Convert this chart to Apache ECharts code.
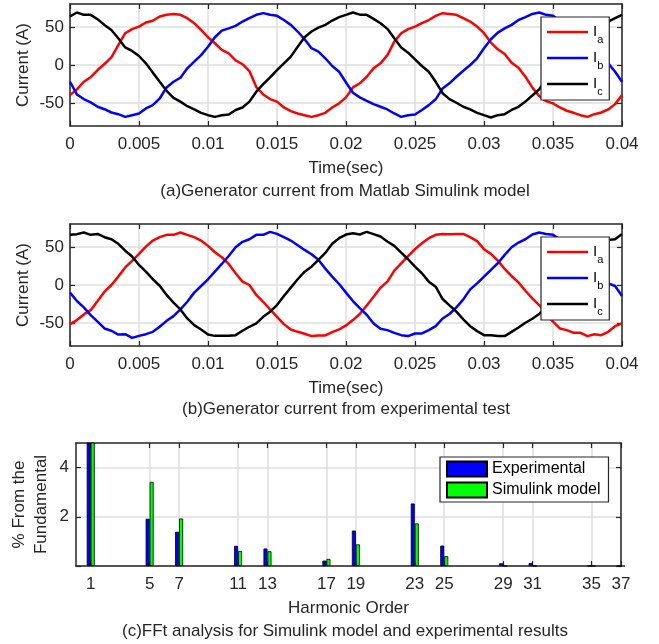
<!DOCTYPE html>
<html><head><meta charset="utf-8">
<script src="https://cdn.jsdelivr.net/npm/echarts@6/dist/echarts.min.js"></script>
<style>html,body{margin:0;padding:0;background:#fff}#c{width:659px;height:644px}</style>
</head><body><div id="c"></div>
<script>
// sampling grid: 0 .. 0.04 s every 0.5 ms (81 samples)
const timeSec = Array.from({length: 81}, (_, i) => +(i * 0.0005).toFixed(4));

// (a) Matlab Simulink model currents (A)
const simIa = [-39.5,-32,-22,-16,-6.6,1.3,10,26,41.7,47,50.4,55.7,58,63.6,66,67,65.8,61.4,54.8,46,36.4,28.5,19.7,15.4,6,1,-8,-29,-38.6,-44.7,-48,-55.7,-60.5,-63.6,-65.8,-68,-65.8,-62.7,-55.7,-50.4,-42.5,-29.4,-24,-15.4,-4.4,2.2,13,30.7,41.7,47,50.4,54.8,59,64.5,68,67,65.8,61.4,57,50.4,41.7,29.4,20.6,14.5,3,-3.5,-15.4,-29.4,-40.8,-47.4,-50.4,-55.7,-60,-62.7,-65.8,-68,-64.5,-62.3,-58.3,-51.3,-39.5];
const simIb = [-22,-38.6,-44.7,-49,-54.8,-58,-62.3,-64.5,-68,-65.8,-63.6,-57,-52.6,-43.9,-29.4,-22,-16.7,-4.4,4.4,13,24,36.4,45,48,51.3,57,61.4,65.8,68,65.8,64.5,59,52.6,43.9,33.8,22,17.5,8.8,-1.3,-8.8,-23,-36.4,-42.5,-47,-51.3,-54.8,-58.3,-63.6,-68,-65.8,-65,-59,-52.6,-45,-30.7,-24,-15.4,-7.5,0,8.8,22,33.8,42.5,48,52.6,59,62.7,67,68.8,65.8,64.5,58,52,44,34,23,17,9,2.2,-8.8,-22];
const simIc = [63.6,68.8,65.8,65.8,60,52.6,46,35,23,18.4,11.8,2.2,-10,-22,-33.8,-43,-48,-54,-58.3,-62.7,-65.8,-68,-65.8,-65,-59,-55.7,-48,-35,-25,-16.2,-6.6,2.2,11,24,36.4,43.9,49,52.6,58.3,62.7,65.8,68.8,66,65.8,60.5,54.8,47.4,35,22.8,16.2,7.5,-1.3,-8.8,-22,-37,-44.7,-49.5,-54.8,-58.3,-62.7,-65.8,-68.8,-65.8,-64.5,-59,-54.8,-48,-40,-32,-18,-6.6,2.2,11,24,36.4,44,49,52.6,57,61.4,65.8];

// (b) experimental test currents (A)
const expIa = [-51.3,-46,-38.6,-33,-21,-8.8,0,11,23,31.6,40.8,50.4,58.3,62.7,65.8,65.8,68.8,65.8,62.7,58.3,51.3,43,36.4,27.6,15.4,4.4,0,-13,-22,-32,-41.7,-51.3,-58.3,-61.4,-64,-67,-66.2,-66.2,-61.8,-58.3,-53,-46,-38,-26.8,-15.4,-3.5,4.4,18.9,28.5,38,47,54.8,61.4,65.8,67,66.7,67,67,62.7,57.5,47,40.8,32,21,11.8,3.5,-7.5,-17.5,-26.3,-37.3,-48,-57,-59.2,-62.7,-62.7,-67,-64.5,-65.8,-61.4,-54,-50.4];
const expIb = [-10,-21,-29.4,-39.5,-48,-57,-60,-65,-64.5,-69.3,-66.7,-64.5,-61.4,-54.8,-47,-40.8,-32,-22,-10,-1.3,7.5,17.5,27.6,38,49.5,56.6,60,65.8,65.8,69.7,67,62.7,58.3,52.2,46,40.4,33,21.5,11,1.3,-10,-21,-30.3,-39,-50.4,-57.5,-59.2,-62.7,-65.8,-67,-63.6,-63.6,-59.2,-54,-43.9,-38,-29.4,-18.9,-5.7,2.2,11,19.7,28.5,39.5,49.5,55.7,60,66.2,68.8,67,65.8,60,54,48,41,33,24,12,2.2,-1.3,-14.5];
const expIc = [65.8,66.7,68.8,65.8,67,62.7,60,54,45,37.3,26.3,17.5,7.5,-1,-13,-23,-32,-43.9,-52.6,-58.3,-65,-66.7,-66.7,-66.7,-65.8,-60,-54.8,-50.4,-41.7,-35,-26.3,-14.5,-3.5,7.5,17.5,24,33,42,54,61.4,66.2,68,66.2,69.7,66.7,63.6,57,51.3,42.5,33.8,24,15.4,4.4,-2.2,-18.4,-26.8,-35,-45,-54,-60.5,-65.8,-65.8,-67,-67,-61.4,-55.7,-49.5,-44.3,-38,-28,-18,-7,3,14,24,32,40,50,59,60,67];

// (c) FFT harmonic content (% of fundamental)
const harmonicOrder = [1,5,7,11,13,17,19,23,25,29,31,35,37];
const experimentalPct = [100,1.92,1.39,0.82,0.71,0.22,1.44,2.54,0.83,0.11,0.12,0,0];
const simulinkPct = [100,3.42,1.93,0.61,0.6,0.29,0.88,1.73,0.4,0,0,0,0];

const currentTicks = [-50,0,50];
const pctTickMarks = [0,2,4];
const pctTickLabels = [2,4];

const FONT = "'Liberation Sans', Arial, sans-serif";
const TXT = '#262626';
const AX = {lineStyle:{color:'#262626', width:1.5}};
const GRIDLINE = {show:true, lineStyle:{color:'#dedede', width:1.5}};
const tick = {inside:true, length:5, lineStyle:{color:'#262626', width:1.2}};
const lbl = (m) => ({margin:m, fontSize:17, color:TXT, fontFamily:FONT});
const nameStyle = {fontSize:17, color:TXT, fontFamily:FONT};

function timeAxes(grid) {
  return [
    {gridIndex:grid, type:'value', min:0, max:0.04, interval:0.005,
     axisLine:{show:true, onZero:false, ...AX}, axisTick:tick, axisLabel:lbl(10),
     splitLine:GRIDLINE, name:'Time(sec)', nameLocation:'middle', nameGap:34,
     nameTextStyle:nameStyle, nameMoveOverlap:false},
    {gridIndex:grid, type:'value', position:'top', min:0, max:0.04, interval:0.005,
     axisLine:{show:true, onZero:false, ...AX}, axisTick:tick, axisLabel:{show:false}, splitLine:{show:false}}
  ];
}
function currentAxes(grid) {
  return [
    {gridIndex:grid, type:'value', min:-80, max:80,
     axisLine:{show:true, onZero:false, ...AX}, axisTick:{...tick, customValues:currentTicks},
     axisLabel:{...lbl(6), customValues:currentTicks}, splitLine:GRIDLINE,
     name:'Current (A)', nameLocation:'middle', nameGap:38, nameTextStyle:nameStyle, nameMoveOverlap:false},
    {gridIndex:grid, type:'value', position:'right', min:-80, max:80,
     axisLine:{show:true, onZero:false, ...AX}, axisTick:{...tick, customValues:currentTicks},
     axisLabel:{show:false, customValues:currentTicks}, splitLine:{show:false}}
  ];
}
function lineSeries(name, arr, color, xi, yi) {
  return {type:'line', name, xAxisIndex:xi, yAxisIndex:yi, symbol:'none', showSymbol:false, animation:false,
    data: timeSec.map((t, i) => [t, arr[i]]), lineStyle:{color, width:2.5}, itemStyle:{color}, clip:true};
}
function phaseLegend(top) {
  return {data:['Ia','Ib','Ic'], orient:'vertical', left:541, top, itemWidth:41, itemHeight:2.5, itemGap:0,
    icon:'rect', padding:[2,6,3,6], backgroundColor:'#fff', borderColor:'#262626', borderWidth:1.2, borderRadius:0,
    selectedMode:false,
    formatter: n => '{m|I}{s|' + n.slice(1) + '}',
    textStyle:{color:'#000', fontFamily:FONT, rich:{
      m:{fontSize:15, lineHeight:26, fontFamily:FONT, color:'#000'},
      s:{fontSize:11, lineHeight:11, padding:[15,0,0,0], fontFamily:FONT, color:'#000'}}}};
}

const chart = echarts.init(document.getElementById('c'), null, {renderer:'canvas'});
chart.setOption({
  animation:false,
  backgroundColor:'#fff',
  grid:[
    {left:70, right:37, top:4, height:122},
    {left:70, right:37, top:224, height:122},
    {left:70, right:38, top:443, height:123}
  ],
  xAxis:[
    ...timeAxes(0), ...timeAxes(1),
    {gridIndex:2, type:'value', min:0, max:37,
     axisLine:{show:true, onZero:false, ...AX}, axisTick:{...tick, customValues:harmonicOrder},
     axisLabel:{...lbl(10), customValues:harmonicOrder}, splitLine:GRIDLINE,
     name:'Harmonic Order', nameLocation:'middle', nameGap:34, nameTextStyle:nameStyle, nameMoveOverlap:false},
    {gridIndex:2, type:'value', position:'top', min:0, max:37,
     axisLine:{show:true, onZero:false, ...AX}, axisTick:{...tick, customValues:harmonicOrder},
     axisLabel:{show:false, customValues:harmonicOrder}, splitLine:{show:false}}
  ],
  yAxis:[
    ...currentAxes(0), ...currentAxes(1),
    {gridIndex:2, type:'value', min:0, max:5,
     axisLine:{show:true, onZero:false, ...AX}, axisTick:{...tick, customValues:pctTickMarks},
     axisLabel:{...lbl(7), customValues:pctTickLabels}, splitLine:GRIDLINE,
     name:'% From the\nFundamental', nameLocation:'middle', nameGap:24,
     nameTextStyle:{...nameStyle, lineHeight:22}, nameMoveOverlap:false},
    {gridIndex:2, type:'value', position:'right', min:0, max:5,
     axisLine:{show:true, onZero:false, ...AX}, axisTick:{...tick, customValues:pctTickMarks},
     axisLabel:{show:false, customValues:pctTickLabels}, splitLine:{show:false}}
  ],
  legend:[
    phaseLegend(17),
    phaseLegend(237),
    {data:['Experimental','Simulink model'], orient:'vertical', left:440, top:457, itemWidth:40, itemHeight:15,
     itemGap:3, icon:'rect', padding:[3,8,3,6], backgroundColor:'#fff', borderColor:'#262626', borderWidth:1.2,
     selectedMode:false, textStyle:{fontSize:16, lineHeight:18, color:'#000', fontFamily:FONT}}
  ],
  series:[
    lineSeries('Ia', simIa, '#ff0000', 0, 0),
    lineSeries('Ib', simIb, '#0000ff', 0, 0),
    lineSeries('Ic', simIc, '#000000', 0, 0),
    lineSeries('Ia', expIa, '#ff0000', 2, 2),
    lineSeries('Ib', expIb, '#0000ff', 2, 2),
    lineSeries('Ic', expIc, '#000000', 2, 2),
    {type:'bar', name:'Experimental', xAxisIndex:4, yAxisIndex:4, barWidth:4, barGap:'0%', clip:true,
     data: harmonicOrder.map((h, i) => [h, experimentalPct[i]]),
     itemStyle:{color:'#0000ff', borderColor:'#000', borderWidth:0.8}},
    {type:'bar', name:'Simulink model', xAxisIndex:4, yAxisIndex:4, barWidth:4, barGap:'0%', clip:true,
     data: harmonicOrder.map((h, i) => [h, simulinkPct[i]]),
     itemStyle:{color:'#00ff00', borderColor:'#000', borderWidth:0.8}}
  ],
  graphic:[
    {type:'text', x:345, y:191, style:{text:'(a)Generator current from Matlab Simulink model', align:'center', verticalAlign:'middle', font:'17px ' + FONT, fill:TXT}},
    {type:'text', x:346, y:409, style:{text:'(b)Generator current from experimental test', align:'center', verticalAlign:'middle', font:'17px ' + FONT, fill:TXT}},
    {type:'text', x:345, y:631, style:{text:'(c)FFt analysis for Simulink model and experimental results', align:'center', verticalAlign:'middle', font:'17px ' + FONT, fill:TXT}}
  ]
});
</script>
</body></html>
